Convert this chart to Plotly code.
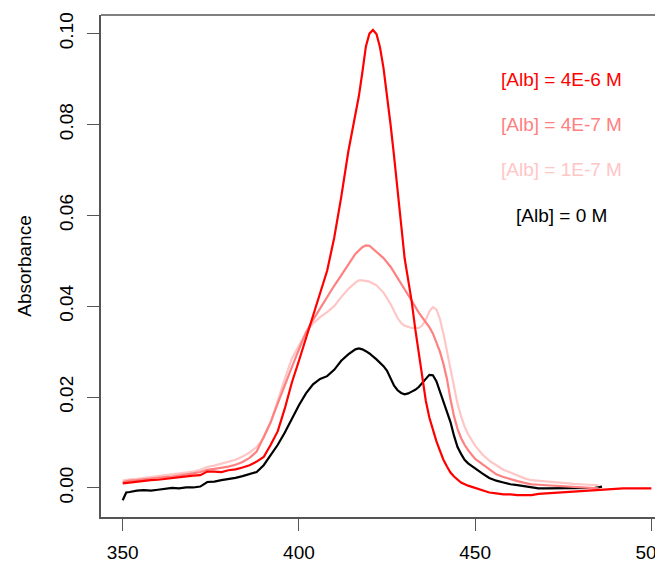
import plotly.graph_objects as go

# ---- data ----
wl_red = [350, 352, 354, 356, 358, 360, 362, 364, 366, 368, 370, 372, 374, 376, 378, 380,
          382, 384, 386, 388, 390, 392, 394, 396, 398, 400, 402, 404, 406, 408, 410, 412,
          414, 415, 416, 417, 418, 419, 420, 421, 422, 423, 424, 425, 426, 427, 428, 429,
          430, 431, 432, 433, 434, 435, 436, 437, 438, 439, 440, 441, 442, 443, 444, 446,
          448, 450, 452, 454, 456, 458, 460, 462, 464, 466, 468, 470, 472, 474, 476, 478,
          480, 482, 484, 486, 488, 490, 492, 494, 496, 498, 500]
abs_red = [0.0010, 0.0012, 0.0013, 0.0015, 0.0017, 0.0018, 0.0020, 0.0021, 0.0023, 0.0026,
           0.0027, 0.0028, 0.0036, 0.0036, 0.0035, 0.0039, 0.0041, 0.0045, 0.0050, 0.0058,
           0.0068, 0.0095, 0.0125, 0.0175, 0.0232, 0.0280, 0.0330, 0.0382, 0.0432, 0.0478,
           0.0550, 0.0640, 0.0740, 0.0780, 0.0821, 0.0862, 0.0915, 0.0972, 0.1000, 0.1008,
           0.0999, 0.0970, 0.0924, 0.0865, 0.0800, 0.0730, 0.0650, 0.0575, 0.0505, 0.0458,
           0.0410, 0.0350, 0.0298, 0.0240, 0.0192, 0.0155, 0.0128, 0.0103, 0.0082, 0.0062,
           0.0047, 0.0034, 0.0025, 0.0012, 0.0005, 0.0000, -0.0006, -0.0010, -0.0012, -0.0014,
           -0.0014, -0.0016, -0.0016, -0.0016, -0.0013, -0.0012, -0.0011, -0.0009, -0.0009,
           -0.0008, -0.0007, -0.0006, -0.0005, -0.0004, -0.0002, -0.0001, -0.0001, -0.0001,
           -0.0001, -0.0001, -0.0001]

wl_salmon = [350, 352, 354, 356, 358, 360, 362, 364, 366, 368, 370, 372, 374, 376, 378, 380,
             382, 384, 386, 388, 390, 392, 394, 396, 398, 400, 402, 404, 406, 408, 410, 412,
             414, 416, 418, 419, 420, 422, 424, 426, 428, 430, 432, 434, 436, 437, 438, 439,
             440, 441, 442, 443, 444, 445, 446, 447, 448, 450, 452, 454, 456, 458, 460, 462,
             464, 466, 468, 470, 474, 478, 482, 485]
abs_salmon = [0.0013, 0.0016, 0.0017, 0.0019, 0.0020, 0.0022, 0.0024, 0.0025, 0.0027, 0.0030,
              0.0032, 0.0035, 0.0040, 0.0042, 0.0044, 0.0047, 0.0051, 0.0057, 0.0066, 0.0080,
              0.0112, 0.0145, 0.0186, 0.0228, 0.0266, 0.0305, 0.0342, 0.0370, 0.0396, 0.0422,
              0.0445, 0.0468, 0.0492, 0.0515, 0.0530, 0.0534, 0.0533, 0.0520, 0.0506, 0.0487,
              0.0463, 0.0438, 0.0412, 0.0386, 0.0365, 0.0354, 0.0340, 0.0322, 0.0300, 0.0273,
              0.0240, 0.0195, 0.0158, 0.0130, 0.0110, 0.0095, 0.0083, 0.0064, 0.0052, 0.0040,
              0.0030, 0.0024, 0.0019, 0.0015, 0.0011, 0.0008, 0.0007, 0.0006, 0.0004, 0.0003,
              0.0001, -0.0001]

wl_pink = [350, 352, 354, 356, 358, 360, 362, 364, 366, 368, 370, 372, 374, 376, 378, 380,
           382, 384, 386, 388, 390, 392, 394, 396, 398, 400, 402, 404, 406, 408, 410, 412,
           414, 416, 417, 418, 420, 422, 424, 426, 427, 428, 429, 430, 432, 434, 435, 436,
           437, 438, 439, 440, 441, 442, 443, 444, 445, 446, 447, 448, 450, 452, 454, 456,
           458, 460, 462, 464, 466, 470, 474, 478, 482, 485]
abs_pink = [0.0016, 0.0019, 0.0020, 0.0022, 0.0024, 0.0025, 0.0027, 0.0029, 0.0031, 0.0034,
            0.0036, 0.0040, 0.0046, 0.0049, 0.0053, 0.0057, 0.0062, 0.0069, 0.0078, 0.0090,
            0.0110, 0.0145, 0.0195, 0.0240, 0.0285, 0.0315, 0.0342, 0.0362, 0.0376, 0.0387,
            0.0400, 0.0420, 0.0438, 0.0452, 0.0457, 0.0457, 0.0454, 0.0446, 0.0430, 0.0405,
            0.0388, 0.0374, 0.0363, 0.0357, 0.0352, 0.0352, 0.0358, 0.0370, 0.0388, 0.0398,
            0.0393, 0.0372, 0.0340, 0.0300, 0.0258, 0.0218, 0.0185, 0.0158, 0.0135, 0.0118,
            0.0093, 0.0074, 0.0060, 0.0050, 0.0040, 0.0034, 0.0028, 0.0021, 0.0017, 0.0014,
            0.0011, 0.0009, 0.0007, 0.0006]

wl_black = [350, 351, 352, 354, 356, 358, 360, 362, 364, 366, 368, 370, 372, 374, 376, 378,
            380, 382, 384, 386, 388, 390, 392, 394, 396, 398, 400, 402, 404, 406, 408, 410,
            412, 414, 416, 417, 418, 419, 420, 422, 424, 425, 426, 427, 428, 429, 430, 431,
            432, 433, 434, 435, 436, 437, 438, 439, 440, 441, 442, 443, 444, 445, 446, 447,
            448, 450, 452, 454, 456, 458, 460, 462, 464, 466, 468, 470, 472, 474, 476, 478,
            480, 482, 484, 486]
abs_black = [-0.0027, -0.0010, -0.0009, -0.0006, -0.0005, -0.0006, -0.0004, -0.0002, 0.0000,
             -0.0001, 0.0001, 0.0001, 0.0003, 0.0013, 0.0014, 0.0017, 0.0019, 0.0022, 0.0026,
             0.0030, 0.0035, 0.0050, 0.0072, 0.0095, 0.0122, 0.0153, 0.0182, 0.0208, 0.0228,
             0.0240, 0.0246, 0.0260, 0.0280, 0.0294, 0.0305, 0.0307, 0.0305, 0.0301, 0.0296,
             0.0283, 0.0268, 0.0258, 0.0240, 0.0225, 0.0215, 0.0209, 0.0206, 0.0208, 0.0212,
             0.0216, 0.0222, 0.0230, 0.0240, 0.0249, 0.0248, 0.0235, 0.0212, 0.0190, 0.0168,
             0.0145, 0.0115, 0.0090, 0.0075, 0.0062, 0.0054, 0.0042, 0.0032, 0.0022, 0.0016,
             0.0012, 0.0008, 0.0006, 0.0004, 0.0002, -0.0001, -0.0001, -0.0001, -0.0001,
             -0.0001, -0.0001, -0.0001, 0.0000, 0.0000, 0.0003]

legend_labels = ["[Alb] = 4E-6 M", "[Alb] = 4E-7 M", "[Alb] = 1E-7 M", "[Alb] = 0 M"]
legend_y = [0.09, 0.08, 0.07, 0.06]
legend_x = 474.6

x_ticks = [350, 400, 450, 500]
y_ticks = [0.00, 0.02, 0.04, 0.06, 0.08, 0.10]
y_ticktext = ["0.00", "0.02", "0.04", "0.06", "0.08", "0.10"]

colors = ["#FF0000", "#FF8080", "#FFC6C6", "#000000"]
FONT = "Liberation Sans, Arial, sans-serif"
AXC = "#555555"

fig = go.Figure()
series = [(wl_black, abs_black, colors[3]),
          (wl_pink, abs_pink, colors[2]),
          (wl_salmon, abs_salmon, colors[1]),
          (wl_red, abs_red, colors[0])]
for xs, ys, c in series:
    fig.add_trace(go.Scatter(x=xs, y=ys, mode="lines",
                             line=dict(color=c, width=2.2), showlegend=False))

for lab, yy, c in zip(legend_labels, legend_y, colors):
    fig.add_annotation(x=legend_x, y=yy, xref="x", yref="y", text=lab, showarrow=False,
                       xanchor="center", yanchor="middle",
                       font=dict(family=FONT, size=19, color=c))

# top border of the box
fig.add_shape(type="line", xref="paper", yref="paper", x0=0, x1=1, y0=1, y1=1,
              line=dict(color=AXC, width=1.6))

# the page body has an 8px default margin, so the figure is sized to fit inside it
fig.update_layout(
    width=655, height=557,
    margin=dict(l=93, r=0, t=7, b=48, autoexpand=False),
    paper_bgcolor="white", plot_bgcolor="white",
    font=dict(family=FONT, size=19, color="#000000"),
    xaxis=dict(range=[343.84, 503.3], tickvals=x_ticks, ticks="outside", ticklen=12,
               tickwidth=1.4, tickcolor=AXC, showline=True, linecolor=AXC, linewidth=1.6,
               showgrid=False, zeroline=False, ticklabeloverflow="allow", automargin=False,
               ticklabelstandoff=5,
               tickfont=dict(family=FONT, size=19, color="#000000")),
    yaxis=dict(range=[-0.0064, 0.1041], tickvals=y_ticks, ticktext=y_ticktext,
               tickangle=-90, ticks="outside", ticklen=12, tickwidth=1.4, tickcolor=AXC,
               showline=True, linecolor=AXC, linewidth=1.6, showgrid=False, zeroline=False,
               automargin=False, ticklabelstandoff=7,
               tickfont=dict(family=FONT, size=19, color="#000000"),
               title=dict(text="Absorbance", font=dict(family=FONT, size=19, color="#000000"),
                          standoff=19)),
)

fig.write_html("out.html")
